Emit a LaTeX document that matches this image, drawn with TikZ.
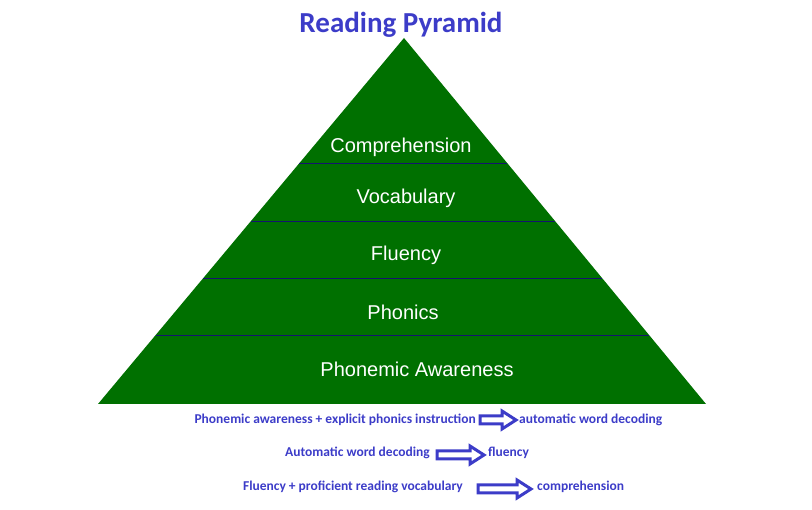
\documentclass[tikz,border=0pt]{standalone}
\usepackage{fontspec}
\setmainfont{Carlito}
\newfontfamily\arialf{Liberation Sans}
\begin{document}
\begin{tikzpicture}[x=1pt,y=-1pt,
  lvl/.style={text=white,font=\arialf\fontsize{20}{22}\selectfont},
  note/.style={text={rgb,255:red,60;green,60;blue,200},font=\bfseries\fontsize{13.5}{15}\selectfont,inner sep=0pt},
  blk/.style={draw={rgb,255:red,60;green,60;blue,200},line width=3pt,fill=white,line join=miter}]
\useasboundingbox (0,0) rectangle (812,510);
\definecolor{pg}{RGB}{0,112,0}
\definecolor{ln}{RGB}{20,20,110}
\node[font=\bfseries\fontsize{29}{32}\selectfont,text={rgb,255:red,60;green,60;blue,200}] (title) at (401,25) {Reading Pyramid};
\coordinate (apex) at (404,38);
\coordinate (bl) at (98,404);
\coordinate (br) at (706,404);
\fill[pg] (apex) -- (bl) -- (br) -- cycle;
\foreach \y in {163,221,278,335}{
  \pgfmathsetmacro{\t}{(\y-38)/366}
  \draw[ln,line width=0.8pt] ({404-306*\t},\y) -- ({404+302*\t},\y);
}
\node[lvl] (l1) at (401,147) {Comprehension};
\node[lvl] (l2) at (406,198) {Vocabulary};
\node[lvl] (l3) at (406,255) {Fluency};
\node[lvl] (l4) at (403,312) {Phonics};
\node[lvl] (l5) at (417,369) {Phonemic Awareness};
\node[note,anchor=east] (a1) at (476,420) {Phonemic awareness + explicit phonics instruction};
\node[note,anchor=west] (b1) at (519,420) {automatic word decoding};
\node[note,anchor=east] (a2) at (430,453) {Automatic word decoding};
\node[note,anchor=west] (b2) at (488,453) {fluency};
\node[note,anchor=east] (a3) at (463,487) {Fluency + proficient reading vocabulary};
\node[note,anchor=west] (b3) at (537,487) {comprehension};
\foreach \xa/\xb/\yc in {480/516/420, 437/484/455, 478/531/489}{
  \draw[blk] (\xa,\yc-4) -- (\xb-14,\yc-4) -- (\xb-14,\yc-9) -- (\xb,\yc) -- (\xb-14,\yc+9) -- (\xb-14,\yc+4) -- (\xa,\yc+4) -- cycle;
}
\end{tikzpicture}
\end{document}
